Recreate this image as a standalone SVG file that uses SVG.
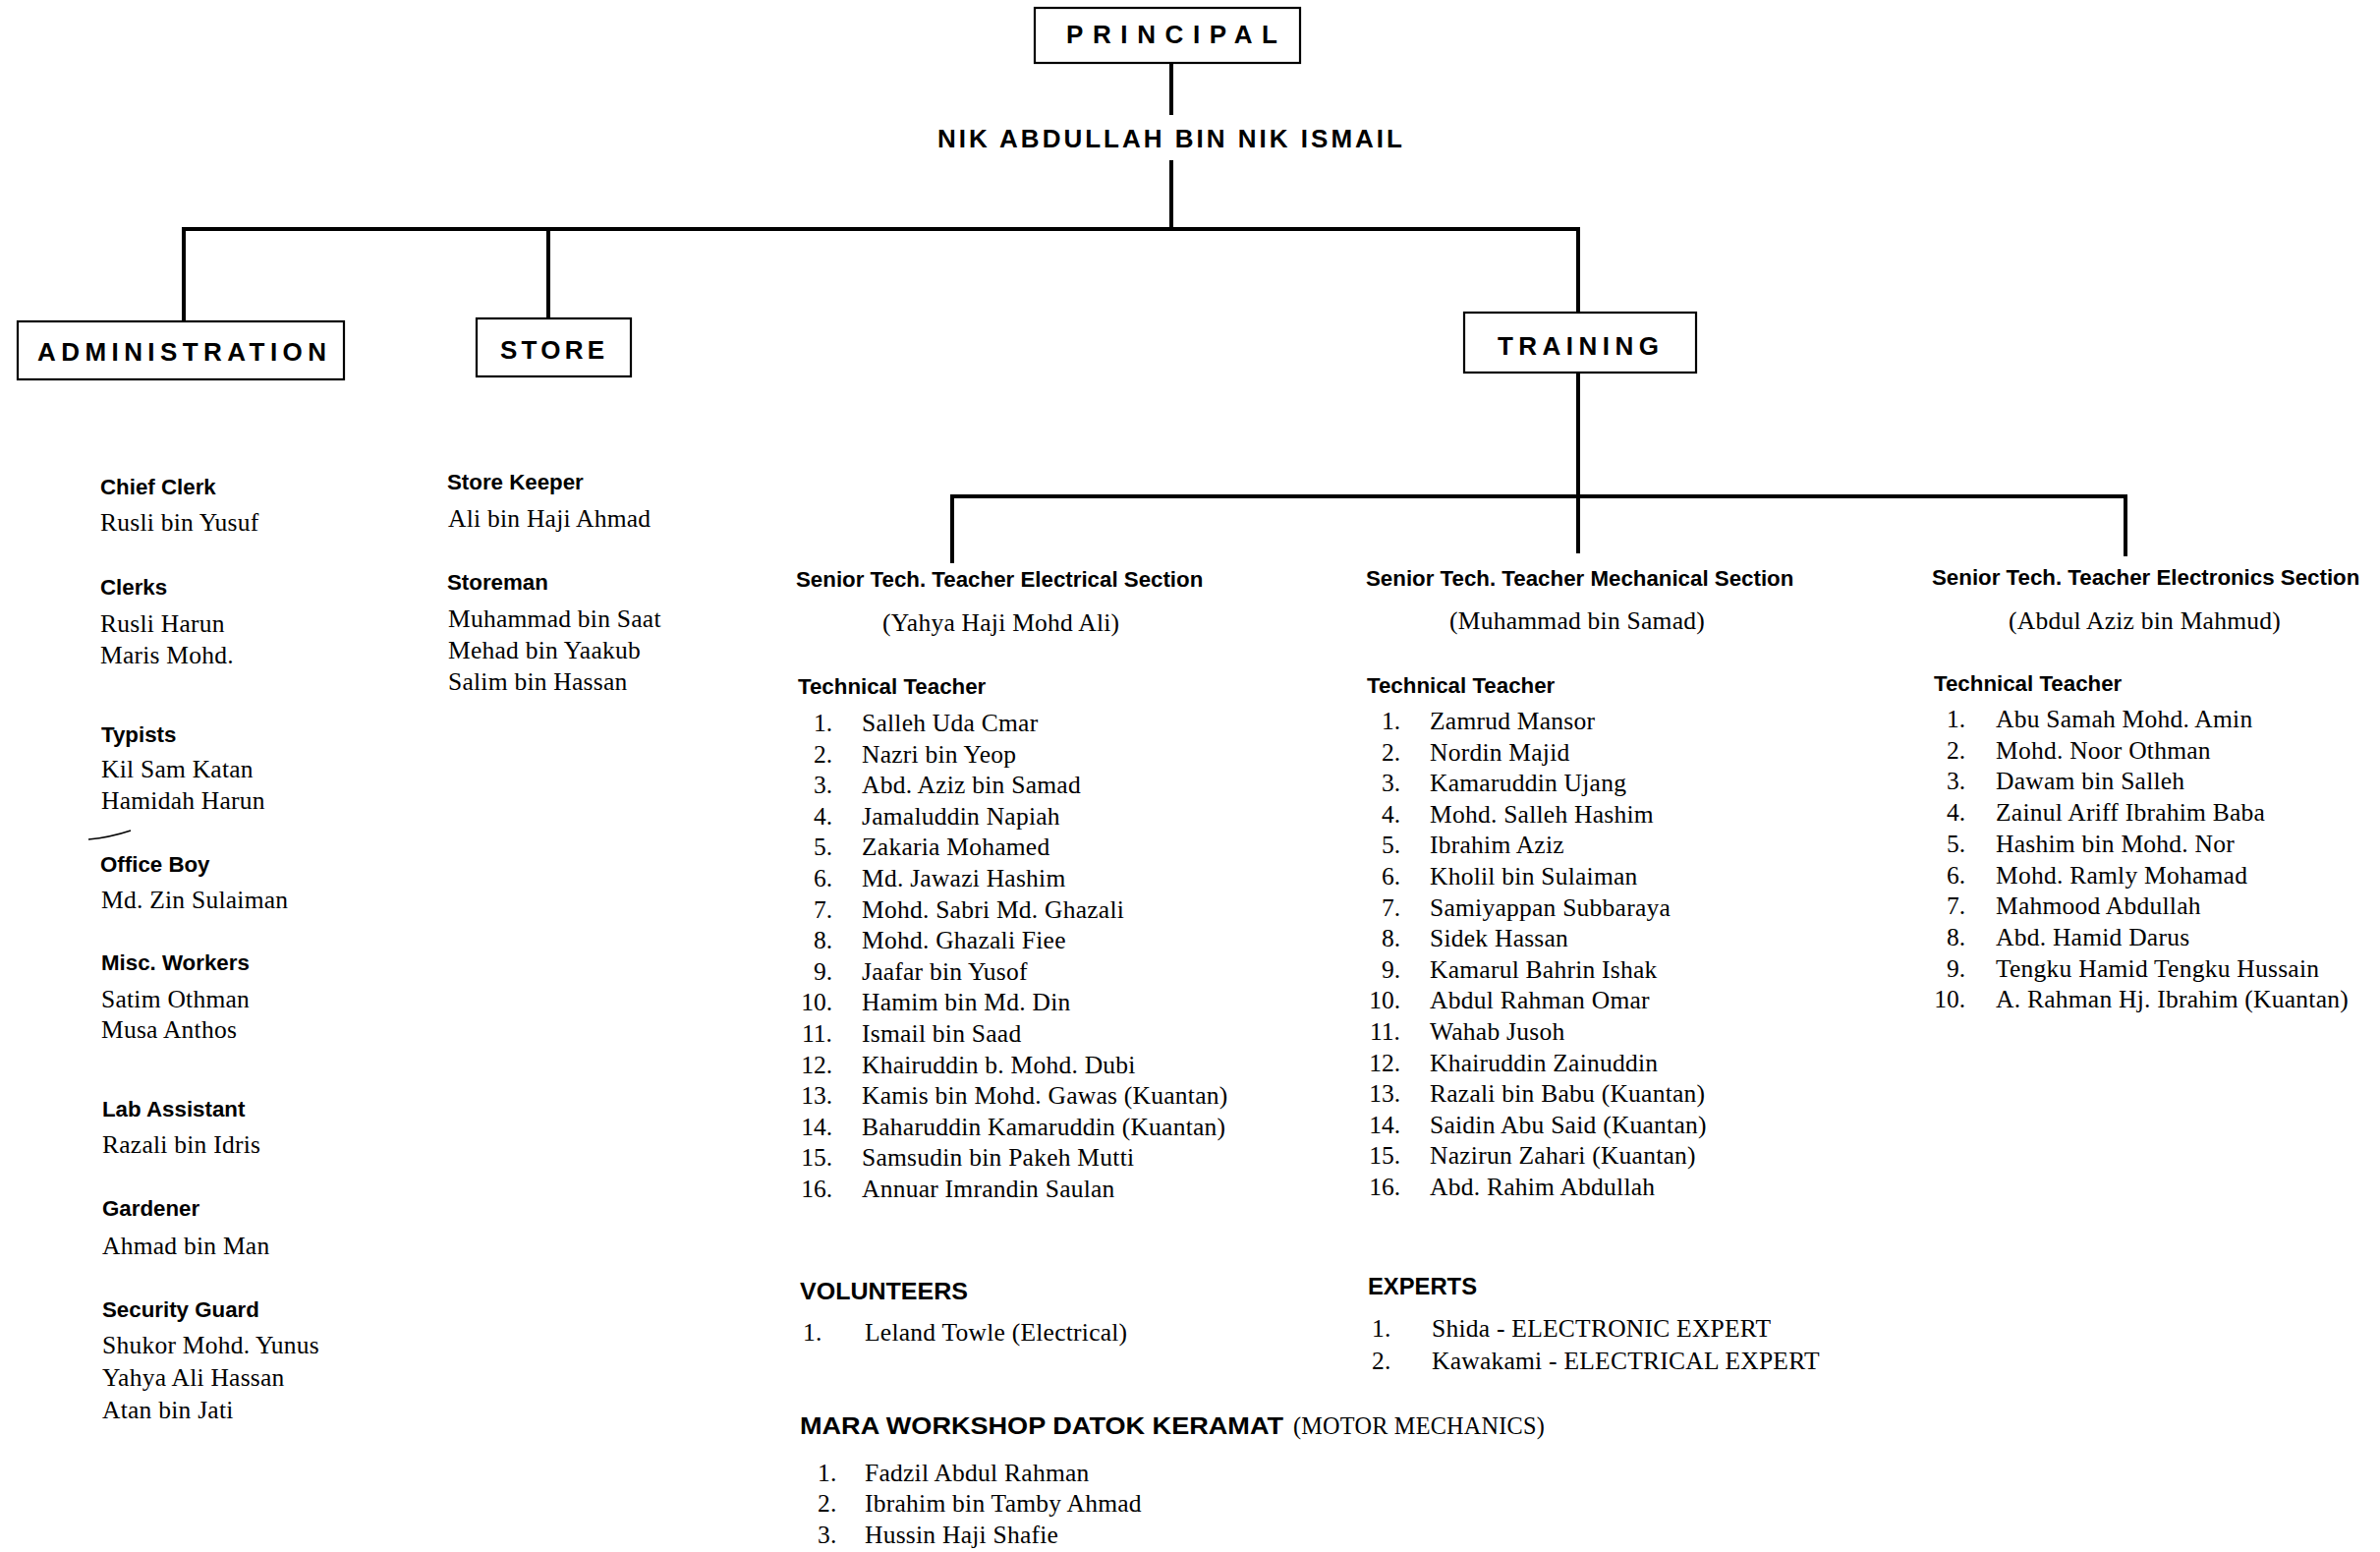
<svg xmlns="http://www.w3.org/2000/svg" width="2422" height="1579" viewBox="0 0 2422 1579">
<style>
.bg{fill:#fff}
.box{fill:#fff;stroke:#000;stroke-width:2.2}
.con{fill:none;stroke:#000;stroke-width:4;stroke-linejoin:miter;stroke-linecap:butt}
.hd{font-family:"Liberation Sans",Arial,sans-serif;font-weight:bold;fill:#000}
.lb{font-family:"Liberation Sans",Arial,sans-serif;font-weight:bold;font-size:22.3px;fill:#000}
.nm{font-family:"Liberation Serif","Times New Roman",serif;font-size:25.5px;letter-spacing:0.25px;fill:#000}
.num{font-family:"Liberation Serif","Times New Roman",serif;font-size:25.5px;fill:#000;text-anchor:end}
</style>
<rect class="bg" x="0" y="0" width="2422" height="1579"/>

<g id="connectors">
  <path class="con" d="M1192,64 V117"/>
  <path class="con" d="M1192,163 V233"/>
  <path class="con" d="M187,327 V233 H1606 V318"/>
  <path class="con" d="M558,233 V324"/>
  <path class="con" d="M1606,379 V563"/>
  <path class="con" d="M969,573 V505 H2163 V566"/>
</g>

<g id="principal">
  <rect class="box" x="1053" y="8" width="270" height="56"/>
  <text class="hd" x="1085" y="44" font-size="26" textLength="215" lengthAdjust="spacing">PRINCIPAL</text>
</g>
<g id="principal-name">
  <text class="hd" x="954" y="150" font-size="26" textLength="473" lengthAdjust="spacing">NIK ABDULLAH BIN NIK ISMAIL</text>
</g>
<g id="administration">
  <rect class="box" x="18" y="327" width="332" height="59"/>
  <text class="hd" x="38" y="367" font-size="26" textLength="294" lengthAdjust="spacing">ADMINISTRATION</text>
</g>
<g id="store">
  <rect class="box" x="485" y="324" width="157" height="59"/>
  <text class="hd" x="509" y="365" font-size="26" textLength="106" lengthAdjust="spacing">STORE</text>
</g>
<g id="training">
  <rect class="box" x="1490" y="318" width="236" height="61"/>
  <text class="hd" x="1524" y="361" font-size="26" textLength="164" lengthAdjust="spacing">TRAINING</text>
</g>

<g id="admin-staff">
  <text class="lb" x="102" y="503">Chief Clerk</text>
  <text class="nm" x="102" y="540">Rusli bin Yusuf</text>
  <text class="lb" x="102" y="605">Clerks</text>
  <text class="nm" x="102" y="643">Rusli Harun</text>
  <text class="nm" x="102" y="675">Maris Mohd.</text>
  <text class="lb" x="103" y="755">Typists</text>
  <text class="nm" x="103" y="791">Kil Sam Katan</text>
  <text class="nm" x="103" y="823">Hamidah Harun</text>
  <path d="M90,854 Q112,852 133,845" fill="none" stroke="#000" stroke-width="1.5"/>
  <text class="lb" x="102" y="887">Office Boy</text>
  <text class="nm" x="103" y="924">Md. Zin Sulaiman</text>
  <text class="lb" x="103" y="987">Misc. Workers</text>
  <text class="nm" x="103" y="1025">Satim Othman</text>
  <text class="nm" x="103" y="1056">Musa Anthos</text>
  <text class="lb" x="104" y="1136">Lab Assistant</text>
  <text class="nm" x="104" y="1173">Razali bin Idris</text>
  <text class="lb" x="104" y="1237">Gardener</text>
  <text class="nm" x="104" y="1276">Ahmad bin Man</text>
  <text class="lb" x="104" y="1340">Security Guard</text>
  <text class="nm" x="104" y="1377">Shukor Mohd. Yunus</text>
  <text class="nm" x="104" y="1410">Yahya Ali Hassan</text>
  <text class="nm" x="104" y="1443">Atan bin Jati</text>
</g>

<g id="store-staff">
  <text class="lb" x="455" y="498">Store Keeper</text>
  <text class="nm" x="456" y="536">Ali bin Haji Ahmad</text>
  <text class="lb" x="455" y="600">Storeman</text>
  <text class="nm" x="456" y="638">Muhammad bin Saat</text>
  <text class="nm" x="456" y="670">Mehad bin Yaakub</text>
  <text class="nm" x="456" y="702">Salim bin Hassan</text>
</g>

<g id="electrical-section">
  <text class="lb" x="810" y="597">Senior Tech. Teacher Electrical Section</text>
  <text class="nm" x="898" y="642">(Yahya Haji Mohd Ali)</text>
  <text class="lb" x="812" y="706">Technical Teacher</text>
  <text class="num" x="847" y="744">1.</text><text class="nm" x="877" y="744">Salleh Uda Cmar</text>
  <text class="num" x="847" y="775.6">2.</text><text class="nm" x="877" y="775.6">Nazri bin Yeop</text>
  <text class="num" x="847" y="807.2">3.</text><text class="nm" x="877" y="807.2">Abd. Aziz bin Samad</text>
  <text class="num" x="847" y="838.8">4.</text><text class="nm" x="877" y="838.8">Jamaluddin Napiah</text>
  <text class="num" x="847" y="870.4">5.</text><text class="nm" x="877" y="870.4">Zakaria Mohamed</text>
  <text class="num" x="847" y="902">6.</text><text class="nm" x="877" y="902">Md. Jawazi Hashim</text>
  <text class="num" x="847" y="933.6">7.</text><text class="nm" x="877" y="933.6">Mohd. Sabri Md. Ghazali</text>
  <text class="num" x="847" y="965.2">8.</text><text class="nm" x="877" y="965.2">Mohd. Ghazali Fiee</text>
  <text class="num" x="847" y="996.8">9.</text><text class="nm" x="877" y="996.8">Jaafar bin Yusof</text>
  <text class="num" x="847" y="1028.4">10.</text><text class="nm" x="877" y="1028.4">Hamim bin Md. Din</text>
  <text class="num" x="847" y="1060">11.</text><text class="nm" x="877" y="1060">Ismail bin Saad</text>
  <text class="num" x="847" y="1091.6">12.</text><text class="nm" x="877" y="1091.6">Khairuddin b. Mohd. Dubi</text>
  <text class="num" x="847" y="1123.2">13.</text><text class="nm" x="877" y="1123.2">Kamis bin Mohd. Gawas (Kuantan)</text>
  <text class="num" x="847" y="1154.8">14.</text><text class="nm" x="877" y="1154.8">Baharuddin Kamaruddin (Kuantan)</text>
  <text class="num" x="847" y="1186.4">15.</text><text class="nm" x="877" y="1186.4">Samsudin bin Pakeh Mutti</text>
  <text class="num" x="847" y="1218">16.</text><text class="nm" x="877" y="1218">Annuar Imrandin Saulan</text>
</g>

<g id="mechanical-section">
  <text class="lb" x="1390" y="596">Senior Tech. Teacher Mechanical Section</text>
  <text class="nm" x="1475" y="640">(Muhammad bin Samad)</text>
  <text class="lb" x="1391" y="705">Technical Teacher</text>
  <text class="num" x="1425" y="742">1.</text><text class="nm" x="1455" y="742">Zamrud Mansor</text>
  <text class="num" x="1425" y="773.6">2.</text><text class="nm" x="1455" y="773.6">Nordin Majid</text>
  <text class="num" x="1425" y="805.2">3.</text><text class="nm" x="1455" y="805.2">Kamaruddin Ujang</text>
  <text class="num" x="1425" y="836.8">4.</text><text class="nm" x="1455" y="836.8">Mohd. Salleh Hashim</text>
  <text class="num" x="1425" y="868.4">5.</text><text class="nm" x="1455" y="868.4">Ibrahim Aziz</text>
  <text class="num" x="1425" y="900">6.</text><text class="nm" x="1455" y="900">Kholil bin Sulaiman</text>
  <text class="num" x="1425" y="931.6">7.</text><text class="nm" x="1455" y="931.6">Samiyappan Subbaraya</text>
  <text class="num" x="1425" y="963.2">8.</text><text class="nm" x="1455" y="963.2">Sidek Hassan</text>
  <text class="num" x="1425" y="994.8">9.</text><text class="nm" x="1455" y="994.8">Kamarul Bahrin Ishak</text>
  <text class="num" x="1425" y="1026.4">10.</text><text class="nm" x="1455" y="1026.4">Abdul Rahman Omar</text>
  <text class="num" x="1425" y="1058">11.</text><text class="nm" x="1455" y="1058">Wahab Jusoh</text>
  <text class="num" x="1425" y="1089.6">12.</text><text class="nm" x="1455" y="1089.6">Khairuddin Zainuddin</text>
  <text class="num" x="1425" y="1121.2">13.</text><text class="nm" x="1455" y="1121.2">Razali bin Babu (Kuantan)</text>
  <text class="num" x="1425" y="1152.8">14.</text><text class="nm" x="1455" y="1152.8">Saidin Abu Said (Kuantan)</text>
  <text class="num" x="1425" y="1184.4">15.</text><text class="nm" x="1455" y="1184.4">Nazirun Zahari (Kuantan)</text>
  <text class="num" x="1425" y="1216">16.</text><text class="nm" x="1455" y="1216">Abd. Rahim Abdullah</text>
</g>

<g id="electronics-section">
  <text class="lb" x="1966" y="595">Senior Tech. Teacher Electronics Section</text>
  <text class="nm" x="2044" y="640">(Abdul Aziz bin Mahmud)</text>
  <text class="lb" x="1968" y="703">Technical Teacher</text>
  <text class="num" x="2000" y="740">1.</text><text class="nm" x="2031" y="740">Abu Samah Mohd. Amin</text>
  <text class="num" x="2000" y="771.7">2.</text><text class="nm" x="2031" y="771.7">Mohd. Noor Othman</text>
  <text class="num" x="2000" y="803.4">3.</text><text class="nm" x="2031" y="803.4">Dawam bin Salleh</text>
  <text class="num" x="2000" y="835.1">4.</text><text class="nm" x="2031" y="835.1">Zainul Ariff Ibrahim Baba</text>
  <text class="num" x="2000" y="866.8">5.</text><text class="nm" x="2031" y="866.8">Hashim bin Mohd. Nor</text>
  <text class="num" x="2000" y="898.5">6.</text><text class="nm" x="2031" y="898.5">Mohd. Ramly Mohamad</text>
  <text class="num" x="2000" y="930.2">7.</text><text class="nm" x="2031" y="930.2">Mahmood Abdullah</text>
  <text class="num" x="2000" y="961.9">8.</text><text class="nm" x="2031" y="961.9">Abd. Hamid Darus</text>
  <text class="num" x="2000" y="993.6">9.</text><text class="nm" x="2031" y="993.6">Tengku Hamid Tengku Hussain</text>
  <text class="num" x="2000" y="1025.3">10.</text><text class="nm" x="2031" y="1025.3">A. Rahman Hj. Ibrahim (Kuantan)</text>
</g>

<g id="volunteers">
  <text class="hd" x="814" y="1322" font-size="24" textLength="171" lengthAdjust="spacingAndGlyphs">VOLUNTEERS</text>
  <text class="nm" x="817" y="1364">1.</text>
  <text class="nm" x="880" y="1364">Leland Towle (Electrical)</text>
</g>

<g id="experts">
  <text class="hd" x="1392" y="1317" font-size="24" textLength="111" lengthAdjust="spacingAndGlyphs">EXPERTS</text>
  <text class="nm" x="1396" y="1360">1.</text>
  <text class="nm" x="1457" y="1360">Shida - ELECTRONIC EXPERT</text>
  <text class="nm" x="1396" y="1393">2.</text>
  <text class="nm" x="1457" y="1393">Kawakami - ELECTRICAL EXPERT</text>
</g>

<g id="mara-workshop">
  <text class="hd" x="814" y="1459" font-size="24.5" textLength="492" lengthAdjust="spacingAndGlyphs">MARA WORKSHOP DATOK KERAMAT</text>
  <text class="nm" x="1316" y="1459" textLength="256" lengthAdjust="spacingAndGlyphs">(MOTOR MECHANICS)</text>
  <text class="nm" x="832" y="1507">1.</text>
  <text class="nm" x="880" y="1507">Fadzil Abdul Rahman</text>
  <text class="nm" x="832" y="1538">2.</text>
  <text class="nm" x="880" y="1538">Ibrahim bin Tamby Ahmad</text>
  <text class="nm" x="832" y="1570">3.</text>
  <text class="nm" x="880" y="1570">Hussin Haji Shafie</text>
</g>
</svg>
